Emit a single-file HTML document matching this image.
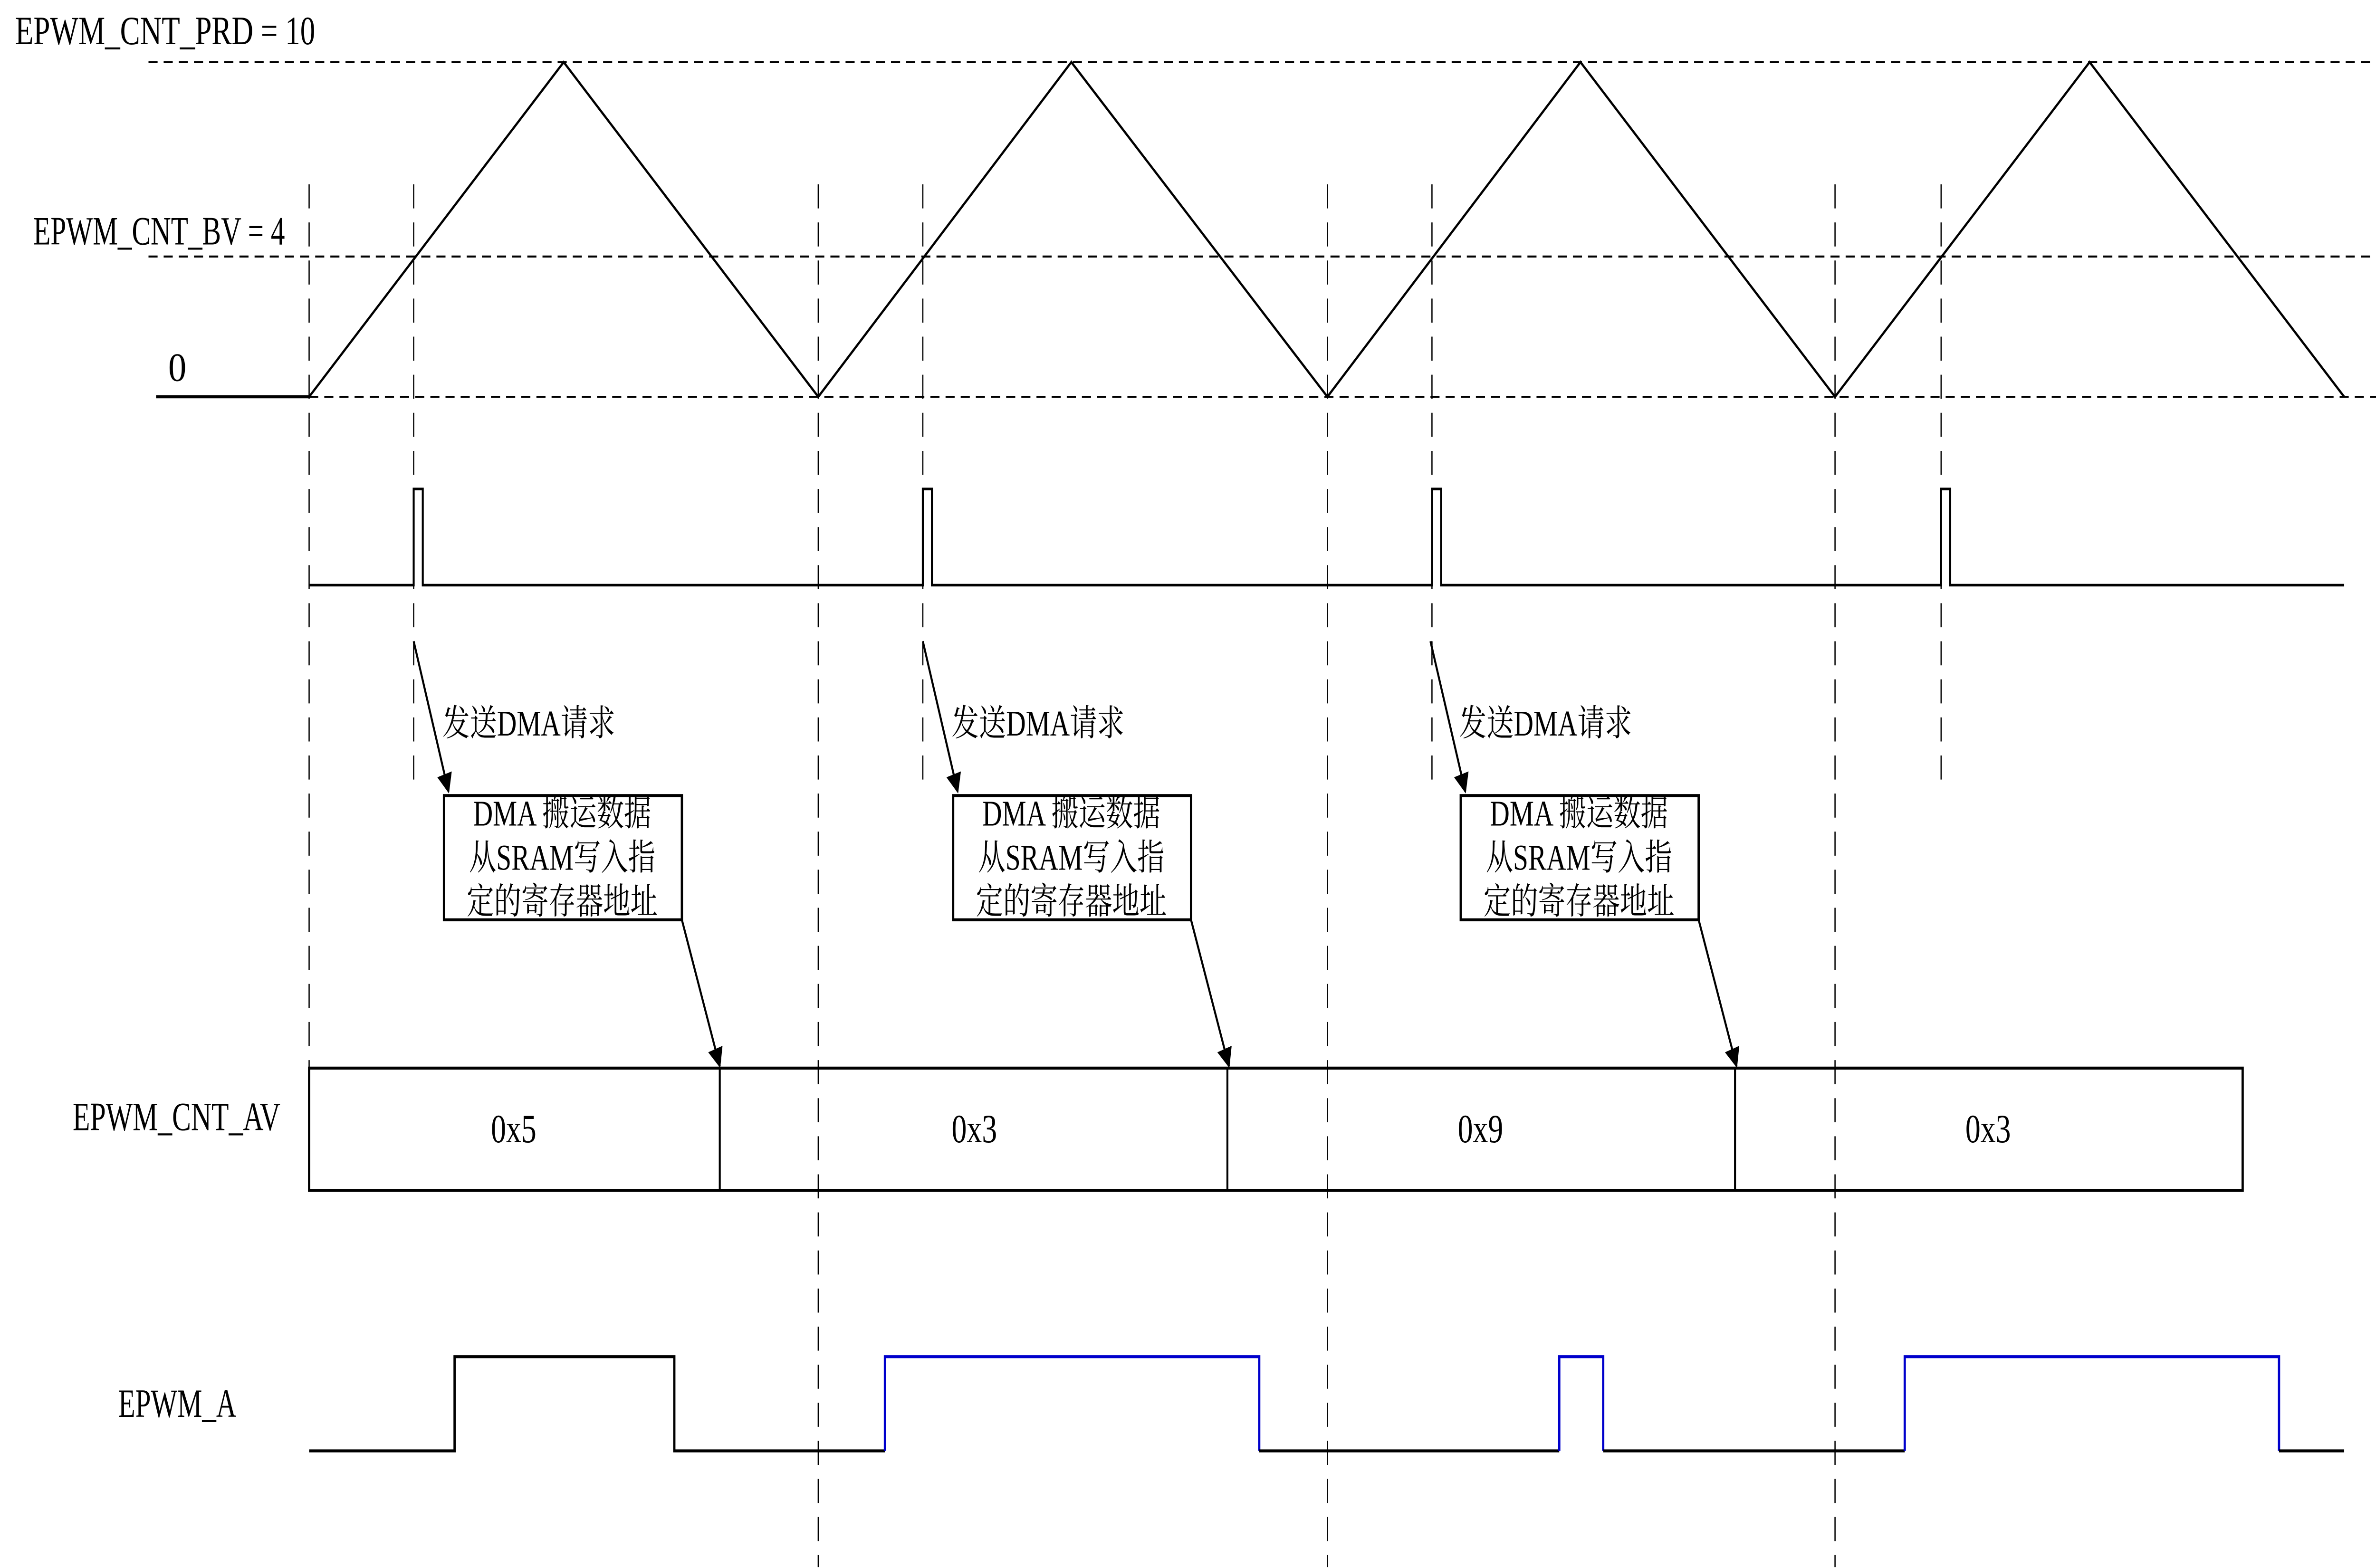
<!DOCTYPE html>
<html><head><meta charset="utf-8"><style>
html,body{margin:0;padding:0;background:#fff;width:100%;height:100%;overflow:hidden;}
svg{display:block;position:absolute;left:0;top:0;width:100vw;height:100vh;}
text{font-family:"Liberation Serif","Noto Serif CJK SC",serif;fill:#000;}
</style></head><body>
<svg viewBox="0 0 1568 782.45" preserveAspectRatio="none" xmlns="http://www.w3.org/2000/svg">
<defs>
<marker id="ah" markerWidth="10" markerHeight="10" refX="9" refY="5" orient="auto" markerUnits="userSpaceOnUse">
<path d="M0,0 L10,5 L0,10 Z" fill="#000"/>
</marker>
</defs>
<g stroke="#000" stroke-width="1" stroke-dasharray="6,4" fill="none">
<line x1="98" y1="31" x2="1568" y2="31"/>
<line x1="98" y1="128" x2="1568" y2="128"/>
<line x1="204" y1="198" x2="1568" y2="198"/>
</g>
<g stroke="#000" stroke-width="0.8" stroke-dasharray="12,7" fill="none">
<line x1="204" y1="92" x2="204" y2="533"/>
<line x1="540" y1="92" x2="540" y2="782"/>
<line x1="876" y1="92" x2="876" y2="782"/>
<line x1="1211" y1="92" x2="1211" y2="782"/>
<line x1="273" y1="92" x2="273" y2="395"/>
<line x1="609" y1="92" x2="609" y2="395"/>
<line x1="945" y1="92" x2="945" y2="395"/>
<line x1="1281" y1="92" x2="1281" y2="395"/>
</g>
<line x1="103" y1="198" x2="204" y2="198" stroke="#000" stroke-width="1.5"/>
<polyline points="204,198 372,31 540,198 707,31 876,198 1043,31 1211,198 1379,31 1547,198" fill="none" stroke="#000" stroke-width="1.3"/>
<polyline points="204,292 273,292 273,244 279,244 279,292 609,292 609,244 615,244 615,292 945,292 945,244 951,244 951,292 1281,292 1281,244 1287,244 1287,292 1547,292" fill="none" stroke="#000" stroke-width="1.3"/>
<text x="10" y="22" font-size="20" textLength="198" lengthAdjust="spacingAndGlyphs">EPWM_CNT_PRD = 10</text>
<text x="22" y="122" font-size="20" textLength="166" lengthAdjust="spacingAndGlyphs">EPWM_CNT_BV = 4</text>
<text x="111" y="190" font-size="20" textLength="12" lengthAdjust="spacingAndGlyphs">0</text>
<text x="48" y="564" font-size="20" textLength="137" lengthAdjust="spacingAndGlyphs">EPWM_CNT_AV</text>
<text x="78" y="707" font-size="20" textLength="78" lengthAdjust="spacingAndGlyphs">EPWM_A</text>
<g>
<line x1="273" y1="320" x2="296" y2="395" stroke="#000" stroke-width="1.3" marker-end="url(#ah)"/>
<text x="292" y="367" font-size="18">发送DMA请求</text>
<rect x="293" y="397" width="157" height="62" fill="none" stroke="#000" stroke-width="1.5"/>
<text x="371" y="412" font-size="18" text-anchor="middle">DMA 搬运数据</text>
<text x="371" y="434" font-size="18" text-anchor="middle">从SRAM写入指</text>
<text x="371" y="456" font-size="18" text-anchor="middle">定的寄存器地址</text>
<line x1="450" y1="459" x2="475" y2="532" stroke="#000" stroke-width="1.3" marker-end="url(#ah)"/>
</g>
<g transform="translate(336,0)">
<line x1="273" y1="320" x2="296" y2="395" stroke="#000" stroke-width="1.3" marker-end="url(#ah)"/>
<text x="292" y="367" font-size="18">发送DMA请求</text>
<rect x="293" y="397" width="157" height="62" fill="none" stroke="#000" stroke-width="1.5"/>
<text x="371" y="412" font-size="18" text-anchor="middle">DMA 搬运数据</text>
<text x="371" y="434" font-size="18" text-anchor="middle">从SRAM写入指</text>
<text x="371" y="456" font-size="18" text-anchor="middle">定的寄存器地址</text>
<line x1="450" y1="459" x2="475" y2="532" stroke="#000" stroke-width="1.3" marker-end="url(#ah)"/>
</g>
<g transform="translate(671,0)">
<line x1="273" y1="320" x2="296" y2="395" stroke="#000" stroke-width="1.3" marker-end="url(#ah)"/>
<text x="292" y="367" font-size="18">发送DMA请求</text>
<rect x="293" y="397" width="157" height="62" fill="none" stroke="#000" stroke-width="1.5"/>
<text x="371" y="412" font-size="18" text-anchor="middle">DMA 搬运数据</text>
<text x="371" y="434" font-size="18" text-anchor="middle">从SRAM写入指</text>
<text x="371" y="456" font-size="18" text-anchor="middle">定的寄存器地址</text>
<line x1="450" y1="459" x2="475" y2="532" stroke="#000" stroke-width="1.3" marker-end="url(#ah)"/>
</g>
<rect x="204" y="533" width="1276" height="61" fill="none" stroke="#000" stroke-width="1.5"/>
<g stroke="#000" stroke-width="1.3">
<line x1="475" y1="533" x2="475" y2="594"/>
<line x1="810" y1="533" x2="810" y2="594"/>
<line x1="1145" y1="533" x2="1145" y2="594"/>
</g>
<g font-size="20" text-anchor="middle">
<text x="339" y="570">0x5</text>
<text x="643" y="570">0x3</text>
<text x="977" y="570">0x9</text>
<text x="1312" y="570">0x3</text>
</g>
<g fill="none" stroke-width="1.5">
<polyline points="204,724 300,724 300,677 445,677 445,724 584,724" stroke="#000"/>
<polyline points="584,724 584,677 831,677 831,724" stroke="#0000cc"/>
<line x1="831" y1="724" x2="1029" y2="724" stroke="#000"/>
<polyline points="1029,724 1029,677 1058,677 1058,724" stroke="#0000cc"/>
<line x1="1058" y1="724" x2="1257" y2="724" stroke="#000"/>
<polyline points="1257,724 1257,677 1504,677 1504,724" stroke="#0000cc"/>
<line x1="1504" y1="724" x2="1547" y2="724" stroke="#000"/>
</g>
</svg>
</body></html>
